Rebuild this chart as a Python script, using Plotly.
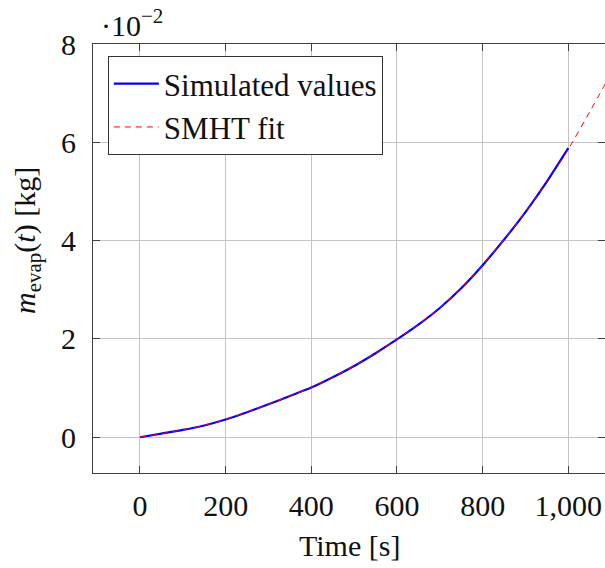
import plotly.graph_objects as go

# Data (mass in units of 1e-2 kg)
time_sim = [0, 50, 100, 150, 200, 250, 300, 350, 400, 450, 500, 550, 600,
            650, 700, 750, 800, 850, 900, 950, 1000]
m_sim = [0.00, 0.075, 0.15, 0.24, 0.36, 0.51, 0.67, 0.84, 1.01, 1.22, 1.45,
         1.71, 1.99, 2.29, 2.63, 3.03, 3.50, 4.02, 4.58, 5.20, 5.88]

time_fit = [0, 50, 100, 150, 200, 250, 300, 350, 400, 450, 500, 550, 600,
            650, 700, 750, 800, 850, 900, 950, 1000, 1050, 1100]
m_fit = [0.00, 0.075, 0.15, 0.24, 0.36, 0.51, 0.67, 0.84, 1.01, 1.22, 1.45,
         1.71, 1.99, 2.29, 2.63, 3.03, 3.50, 4.02, 4.58, 5.18, 5.86, 6.62, 7.40]

x_ticks = [0, 200, 400, 600, 800, 1000]
y_ticks = [0, 2, 4, 6, 8]

FONT = "Liberation Serif"
FS = 30

fig = go.Figure()
fig.add_trace(go.Scatter(x=time_sim, y=m_sim, mode="lines", name="Simulated values",
                         line=dict(color="#0000ff", width=2.2, shape="spline", smoothing=0.6)))
fig.add_trace(go.Scatter(x=time_fit, y=m_fit, mode="lines", name="SMHT fit",
                         line=dict(color="#ff0000", width=1, dash="6px,5px",
                                   shape="spline", smoothing=0.6)))

axis_common = dict(showline=True, linecolor="#404040", linewidth=1, mirror="ticks",
                   ticks="inside", ticklen=7, tickcolor="#404040", tickwidth=1,
                   showgrid=True, gridcolor="#c4c4c4", gridwidth=1, zeroline=False,
                   automargin=False,
                   tickfont=dict(family=FONT, size=FS, color="#111"))

fig.update_xaxes(range=[-109.7, 1085.7], tickvals=x_ticks, tickformat=",d",
                 ticklabelstandoff=6, **axis_common)
fig.update_yaxes(range=[-0.727, 8], tickvals=y_ticks, ticklabelstandoff=10, **axis_common)

fig.update_layout(
    width=605, height=568,
    margin=dict(l=93, r=0, t=44, b=95, autoexpand=False),
    plot_bgcolor="white", paper_bgcolor="white",
    font=dict(family=FONT, size=FS, color="#111"),
    showlegend=True,
    legend=dict(x=0.029, y=0.972, xanchor="left", yanchor="top",
                bordercolor="#333", borderwidth=1, bgcolor="white",
                font=dict(family=FONT, size=31), tracegroupgap=0, itemwidth=45),
    annotations=[
        dict(text="·10<sup>−2</sup>", xref="paper", yref="paper", x=0.012, y=1.0,
             xanchor="left", yanchor="bottom", yshift=0, showarrow=False,
             font=dict(family=FONT, size=FS)),
        dict(text="<i>m</i><sub>evap</sub>(<i>t</i>) [kg]", xref="paper", yref="paper",
             x=-0.129, y=0.543, xanchor="center", yanchor="middle", textangle=-90,
             showarrow=False, font=dict(family=FONT, size=FS)),
        dict(text="Time [s]", xref="paper", yref="paper", x=0.5, y=-0.169,
             xanchor="center", yanchor="middle", showarrow=False,
             font=dict(family=FONT, size=FS)),
    ],
)

fig.write_html("out.html", config={"displayModeBar": False})

# remove default page margin so the figure sits at the window's top-left corner
with open("out.html", "r", encoding="utf-8") as f:
    html = f.read()
html = html.replace("<head>", "<head><style>html,body{margin:0;padding:0;overflow:hidden}</style>", 1)
with open("out.html", "w", encoding="utf-8") as f:
    f.write(html)
